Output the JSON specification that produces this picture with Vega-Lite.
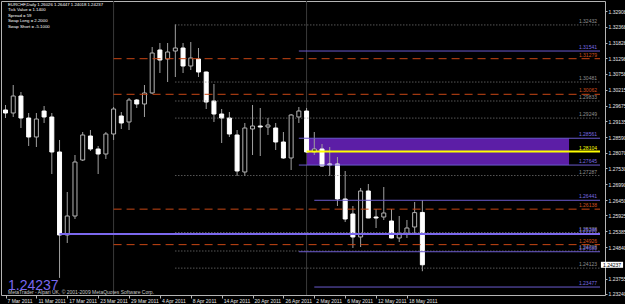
{
  "$schema": "https://vega.github.io/schema/vega-lite/v6.json",
  "width": 604,
  "height": 294,
  "autosize": {"type": "none"},
  "padding": {"left": 1, "top": 1, "right": 20, "bottom": 9},
  "background": "#000000",
  "config": {
    "view": {"stroke": "#b4b4b4", "strokeWidth": 1},
    "font": "Liberation Sans"
  },
  "resolve": {"axis": {"x": "independent", "y": "independent"}},
  "datasets": {
    "candles": [
      {"i": 0, "d": "2011-03-07", "o": 1.29526, "h": 1.29697, "l": 1.29252, "c": 1.29423},
      {"i": 1, "d": "2011-03-08", "o": 1.29423, "h": 1.30380, "l": 1.29287, "c": 1.30004},
      {"i": 2, "d": "2011-03-09", "o": 1.30004, "h": 1.30141, "l": 1.28911, "c": 1.29252},
      {"i": 3, "d": "2011-03-10", "o": 1.29252, "h": 1.29423, "l": 1.28296, "c": 1.28603},
      {"i": 4, "d": "2011-03-11", "o": 1.28603, "h": 1.29423, "l": 1.28262, "c": 1.29218},
      {"i": 5, "d": "2011-03-14", "o": 1.29491, "h": 1.29662, "l": 1.29082, "c": 1.29287},
      {"i": 6, "d": "2011-03-15", "o": 1.29287, "h": 1.29423, "l": 1.27339, "c": 1.28091},
      {"i": 7, "d": "2011-03-16", "o": 1.28091, "h": 1.28501, "l": 1.23790, "c": 1.25255},
      {"i": 8, "d": "2011-03-17", "o": 1.25255, "h": 1.26724, "l": 1.24982, "c": 1.25904},
      {"i": 9, "d": "2011-03-18", "o": 1.25904, "h": 1.27988, "l": 1.25802, "c": 1.27749},
      {"i": 10, "d": "2011-03-21", "o": 1.27817, "h": 1.28774, "l": 1.27783, "c": 1.28672},
      {"i": 11, "d": "2011-03-22", "o": 1.28637, "h": 1.28842, "l": 1.28125, "c": 1.28193},
      {"i": 12, "d": "2011-03-23", "o": 1.28193, "h": 1.28296, "l": 1.27339, "c": 1.28022},
      {"i": 13, "d": "2011-03-24", "o": 1.28022, "h": 1.28774, "l": 1.27852, "c": 1.28706},
      {"i": 14, "d": "2011-03-25", "o": 1.28706, "h": 1.29628, "l": 1.28501, "c": 1.29560},
      {"i": 15, "d": "2011-03-28", "o": 1.29321, "h": 1.29457, "l": 1.28877, "c": 1.29082},
      {"i": 16, "d": "2011-03-29", "o": 1.29116, "h": 1.29936, "l": 1.28842, "c": 1.29867},
      {"i": 17, "d": "2011-03-30", "o": 1.29867, "h": 1.29901, "l": 1.29594, "c": 1.29731},
      {"i": 18, "d": "2011-03-31", "o": 1.29731, "h": 1.30380, "l": 1.29287, "c": 1.30107},
      {"i": 19, "d": "2011-04-01", "o": 1.30107, "h": 1.31678, "l": 1.30072, "c": 1.31473},
      {"i": 20, "d": "2011-04-04", "o": 1.31576, "h": 1.31815, "l": 1.30790, "c": 1.31234},
      {"i": 21, "d": "2011-04-05", "o": 1.31268, "h": 1.31815, "l": 1.30482, "c": 1.31507},
      {"i": 22, "d": "2011-04-06", "o": 1.31541, "h": 1.32450, "l": 1.30653, "c": 1.31644},
      {"i": 23, "d": "2011-04-07", "o": 1.31644, "h": 1.31815, "l": 1.30790, "c": 1.31029},
      {"i": 24, "d": "2011-04-08", "o": 1.31029, "h": 1.31849, "l": 1.30892, "c": 1.31302},
      {"i": 25, "d": "2011-04-11", "o": 1.31268, "h": 1.31644, "l": 1.30653, "c": 1.30824},
      {"i": 26, "d": "2011-04-12", "o": 1.30824, "h": 1.30840, "l": 1.29560, "c": 1.29799},
      {"i": 27, "d": "2011-04-13", "o": 1.29833, "h": 1.30414, "l": 1.29116, "c": 1.29389},
      {"i": 28, "d": "2011-04-14", "o": 1.29389, "h": 1.29560, "l": 1.28398, "c": 1.29252},
      {"i": 29, "d": "2011-04-15", "o": 1.29252, "h": 1.29457, "l": 1.28603, "c": 1.28706},
      {"i": 30, "d": "2011-04-18", "o": 1.28672, "h": 1.28842, "l": 1.27271, "c": 1.27442},
      {"i": 31, "d": "2011-04-19", "o": 1.27407, "h": 1.29082, "l": 1.27271, "c": 1.28911},
      {"i": 32, "d": "2011-04-20", "o": 1.28877, "h": 1.29697, "l": 1.27988, "c": 1.28979},
      {"i": 33, "d": "2011-04-21", "o": 1.28979, "h": 1.29594, "l": 1.27954, "c": 1.28945},
      {"i": 34, "d": "2011-04-22", "o": 1.28945, "h": 1.29252, "l": 1.28672, "c": 1.29013},
      {"i": 35, "d": "2011-04-25", "o": 1.28911, "h": 1.29082, "l": 1.28159, "c": 1.28432},
      {"i": 36, "d": "2011-04-26", "o": 1.28432, "h": 1.28774, "l": 1.27860, "c": 1.27886},
      {"i": 37, "d": "2011-04-27", "o": 1.27886, "h": 1.29389, "l": 1.27476, "c": 1.29355},
      {"i": 38, "d": "2011-04-28", "o": 1.29287, "h": 1.29628, "l": 1.29082, "c": 1.29491},
      {"i": 39, "d": "2011-04-29", "o": 1.29491, "h": 1.29594, "l": 1.28057, "c": 1.28091},
      {"i": 40, "d": "2011-05-02", "o": 1.28091, "h": 1.28774, "l": 1.27988, "c": 1.28193},
      {"i": 41, "d": "2011-05-03", "o": 1.28193, "h": 1.28364, "l": 1.27590, "c": 1.27612},
      {"i": 42, "d": "2011-05-04", "o": 1.27681, "h": 1.28262, "l": 1.27271, "c": 1.27647},
      {"i": 43, "d": "2011-05-05", "o": 1.27681, "h": 1.27920, "l": 1.26246, "c": 1.26485},
      {"i": 44, "d": "2011-05-06", "o": 1.26485, "h": 1.27442, "l": 1.25699, "c": 1.25802},
      {"i": 45, "d": "2011-05-09", "o": 1.25973, "h": 1.26246, "l": 1.24811, "c": 1.25187},
      {"i": 46, "d": "2011-05-10", "o": 1.25187, "h": 1.26861, "l": 1.24845, "c": 1.26758},
      {"i": 47, "d": "2011-05-11", "o": 1.26758, "h": 1.26997, "l": 1.25830, "c": 1.25836},
      {"i": 48, "d": "2011-05-12", "o": 1.25870, "h": 1.26143, "l": 1.25494, "c": 1.25836},
      {"i": 49, "d": "2011-05-13", "o": 1.25870, "h": 1.26895, "l": 1.25768, "c": 1.26007},
      {"i": 50, "d": "2011-05-16", "o": 1.25733, "h": 1.26143, "l": 1.25140, "c": 1.25153},
      {"i": 51, "d": "2011-05-17", "o": 1.25153, "h": 1.25904, "l": 1.25016, "c": 1.25289},
      {"i": 52, "d": "2011-05-18", "o": 1.25289, "h": 1.25768, "l": 1.25153, "c": 1.25494},
      {"i": 53, "d": "2011-05-19", "o": 1.25528, "h": 1.26383, "l": 1.25255, "c": 1.26020},
      {"i": 54, "d": "2011-05-20", "o": 1.26026, "h": 1.26447, "l": 1.24018, "c": 1.24237}
    ],
    "hlines": [
      {"kind": "red", "start": 14, "p": 1.31279, "label": "1.31279"},
      {"kind": "red", "start": 14, "p": 1.30062, "label": "1.30062"},
      {"kind": "red", "start": 14, "p": 1.26138, "label": "1.26138"},
      {"kind": "red", "start": 14, "p": 1.24926, "label": "1.24926"},
      {"kind": "gray", "start": 22, "p": 1.32432, "label": "1.32432"},
      {"kind": "gray", "start": 22, "p": 1.30481, "label": "1.30481"},
      {"kind": "gray", "start": 22, "p": 1.29833, "label": "1.29833"},
      {"kind": "gray", "start": 22, "p": 1.29249, "label": "1.29249"},
      {"kind": "gray", "start": 22, "p": 1.27287, "label": "1.27287"},
      {"kind": "gray", "start": 22, "p": 1.25338, "label": "1.25338"},
      {"kind": "gray", "start": 22, "p": 1.24708, "label": "1.24708"},
      {"kind": "gray", "start": 22, "p": 1.24123, "label": "1.24123"},
      {"kind": "purple", "start": 38, "p": 1.31541, "label": "1.31541"},
      {"kind": "purple", "start": 38, "p": 1.28561, "label": "1.28561"},
      {"kind": "purple", "start": 38, "p": 1.27645, "label": "1.27645"},
      {"kind": "purple", "start": 40, "p": 1.26441, "label": "1.26441"},
      {"kind": "purple", "start": 38, "p": 1.24683, "label": "1.24683"},
      {"kind": "purple", "start": 40, "p": 1.23477, "label": "1.23477"},
      {"kind": "thick", "start": 7, "p": 1.25288, "label": "1.25288"},
      {"kind": "yellow", "start": 39, "p": 1.28104, "label": "1.28104"}
    ],
    "zone": [{"start": 39, "end": 73, "top": 1.28561, "bottom": 1.27645}],
    "vlines": [{"i": 14}, {"i": 39}],
    "last": [{"p": 1.24237, "label": "1.24237"}]
  },
  "layer": [
    {
      "data": {"name": "zone"},
      "mark": {"type": "rect", "fill": "#5c1ea6"},
      "encoding": {
        "x": {"field": "start", "type": "quantitative", "scale": {"domain": [0.064, 77.01], "nice": false, "zero": false}, "axis": null},
        "x2": {"field": "end"},
        "y": {"field": "top", "type": "quantitative", "scale": {"domain": [1.23205, 1.3325], "nice": false, "zero": false}, "axis": null},
        "y2": {"field": "bottom"}
      }
    },
    {
      "data": {"name": "vlines"},
      "mark": {"type": "rule", "color": "#3a3a3a", "strokeWidth": 1},
      "encoding": {"x": {"field": "i", "type": "quantitative", "axis": null}}
    },
    {
      "data": {"name": "candles"},
      "mark": {"type": "rule", "color": "#a0a0a0", "strokeWidth": 1},
      "encoding": {
        "x": {"field": "i", "type": "quantitative", "axis": null},
        "y": {"field": "l", "type": "quantitative", "axis": null},
        "y2": {"field": "h"}
      }
    },
    {
      "data": {"name": "candles"},
      "mark": {"type": "bar", "size": 4, "strokeWidth": 1},
      "encoding": {
        "x": {"field": "i", "type": "quantitative", "scale": {"domain": [0.064, 77.01], "nice": false, "zero": false},
          "axis": {"title": null, "grid": false, "domain": false, "values": [0, 4, 8, 12, 16, 20, 24, 28, 32, 36, 40, 44, 48, 52], "labelExpr": "['7 Mar 2011','11 Mar 2011','17 Mar 2011','23 Mar 2011','29 Mar 2011','4 Apr 2011','8 Apr 2011','14 Apr 2011','20 Apr 2011','26 Apr 2011','2 May 2011','6 May 2011','12 May 2011','18 May 2011'][round(datum.value/4)]", "orient": "bottom", "tickSize": 3, "tickColor": "#b4b4b4", "labelColor": "#e6e6e6", "labelFontSize": 5, "labelAlign": "left", "labelBaseline": "top", "labelPadding": 0, "labelOffset": 1.5}},
        "y": {"field": "o", "type": "quantitative", "scale": {"domain": [1.23205, 1.3325], "nice": false, "zero": false},
          "axis": {"title": null, "grid": false, "domain": false, "orient": "right", "values": [1.32908, 1.32368, 1.31828, 1.31298, 1.30758, 1.30215, 1.29675, 1.29135, 1.2859, 1.2807, 1.2753, 1.2699, 1.2645, 1.25925, 1.25385, 1.2484, 1.23755, 1.2324], "format": ".5f", "tickSize": 2, "tickColor": "#b4b4b4", "labelColor": "#e6e6e6", "labelFontSize": 5, "labelPadding": 1, "labelAlign": "left", "labelBaseline": "middle"}},
        "y2": {"field": "c"},
        "fill": {"condition": {"test": "datum.c < datum.o", "value": "#ffffff"}, "value": "#000000"},
        "stroke": {"condition": {"test": "datum.c < datum.o", "value": "#ffffff"}, "value": "#b4b4b4"}
      }
    },
    {
      "data": {"name": "hlines"},
      "transform": [{"filter": "datum.kind == 'red'"}],
      "mark": {"type": "rule", "color": "#c84614", "strokeWidth": 1, "strokeDash": [8, 5]},
      "encoding": {
        "x": {"field": "start", "type": "quantitative", "axis": null},
        "x2": {"datum": 77.01},
        "y": {"field": "p", "type": "quantitative", "axis": null}
      }
    },
    {
      "data": {"name": "hlines"},
      "transform": [{"filter": "datum.kind == 'gray'"}],
      "mark": {"type": "rule", "color": "#808080", "strokeWidth": 1, "strokeDash": [1, 2]},
      "encoding": {
        "x": {"field": "start", "type": "quantitative", "axis": null},
        "x2": {"datum": 77.01},
        "y": {"field": "p", "type": "quantitative", "axis": null}
      }
    },
    {
      "data": {"name": "hlines"},
      "transform": [{"filter": "datum.kind == 'purple'"}],
      "mark": {"type": "rule", "color": "#6a5acd", "strokeWidth": 1},
      "encoding": {
        "x": {"field": "start", "type": "quantitative", "axis": null},
        "x2": {"datum": 77.01},
        "y": {"field": "p", "type": "quantitative", "axis": null}
      }
    },
    {
      "data": {"name": "hlines"},
      "transform": [{"filter": "datum.kind == 'thick'"}],
      "mark": {"type": "rule", "color": "#7b68ee", "strokeWidth": 2},
      "encoding": {
        "x": {"field": "start", "type": "quantitative", "axis": null},
        "x2": {"datum": 77.01},
        "y": {"field": "p", "type": "quantitative", "axis": null}
      }
    },
    {
      "data": {"name": "hlines"},
      "transform": [{"filter": "datum.kind == 'yellow'"}],
      "mark": {"type": "rule", "color": "#ffff00", "strokeWidth": 2},
      "encoding": {
        "x": {"field": "start", "type": "quantitative", "axis": null},
        "x2": {"datum": 77.01},
        "y": {"field": "p", "type": "quantitative", "axis": null}
      }
    },
    {
      "data": {"name": "hlines"},
      "mark": {"type": "text", "align": "right", "baseline": "bottom", "dy": -1, "fontSize": 5},
      "encoding": {
        "x": {"datum": 76.62, "type": "quantitative", "axis": null},
        "y": {"field": "p", "type": "quantitative", "axis": null},
        "text": {"field": "label"},
        "color": {"field": "kind", "type": "nominal", "legend": null,
          "scale": {"domain": ["red", "gray", "purple", "thick", "yellow"], "range": ["#d2501e", "#909090", "#7a6ae0", "#7b68ee", "#ffff00"]}}
      }
    },
    {
      "data": {"name": "last"},
      "mark": {"type": "rect", "fill": "#ffffff", "yOffset": -3, "y2Offset": 3},
      "encoding": {
        "x": {"datum": 77.13, "type": "quantitative", "axis": null},
        "x2": {"datum": 80},
        "y": {"field": "p", "type": "quantitative", "axis": null},
        "y2": {"field": "p"}
      }
    },
    {
      "data": {"name": "last"},
      "mark": {"type": "text", "align": "left", "baseline": "middle", "fontSize": 5, "color": "#000000"},
      "encoding": {
        "x": {"datum": 77.4, "type": "quantitative", "axis": null},
        "y": {"field": "p", "type": "quantitative", "axis": null},
        "text": {"field": "label"}
      }
    },
    {
      "data": {"values": [{"t": "MetaTrader - Alpari UK, © 2001-2009 MetaQuotes Software Corp."}]},
      "mark": {"type": "text", "align": "left", "baseline": "middle", "fontSize": 5, "color": "#c8c8c8"},
      "encoding": {
        "x": {"datum": 0.32, "type": "quantitative", "axis": null},
        "y": {"datum": 1.23308, "type": "quantitative", "axis": null},
        "text": {"field": "t"}
      }
    },
    {
      "data": {"name": "last"},
      "mark": {"type": "text", "align": "left", "baseline": "alphabetic", "fontSize": 14, "color": "#7b68ee"},
      "encoding": {
        "x": {"datum": 0.32, "type": "quantitative", "axis": null},
        "y": {"datum": 1.23376, "type": "quantitative", "axis": null},
        "text": {"field": "label"}
      }
    },
    {
      "data": {"values": [{"sym": "EURCHF"}]},
      "mark": {"type": "text", "align": "left", "baseline": "top", "fontSize": 4.3, "lineHeight": 5.65, "color": "#ffffff",
        "text": ["EURCHF,Daily  1.26026 1.26447 1.24018 1.24237", "Tick Value = 1.1400", "Spread = 59", "Swap Long = 2.2000", "Swap Short = -5.1000"]},
      "encoding": {
        "x": {"datum": 0.32, "type": "quantitative", "axis": null},
        "y": {"datum": 1.33198, "type": "quantitative", "axis": null}
      }
    }
  ]
}
